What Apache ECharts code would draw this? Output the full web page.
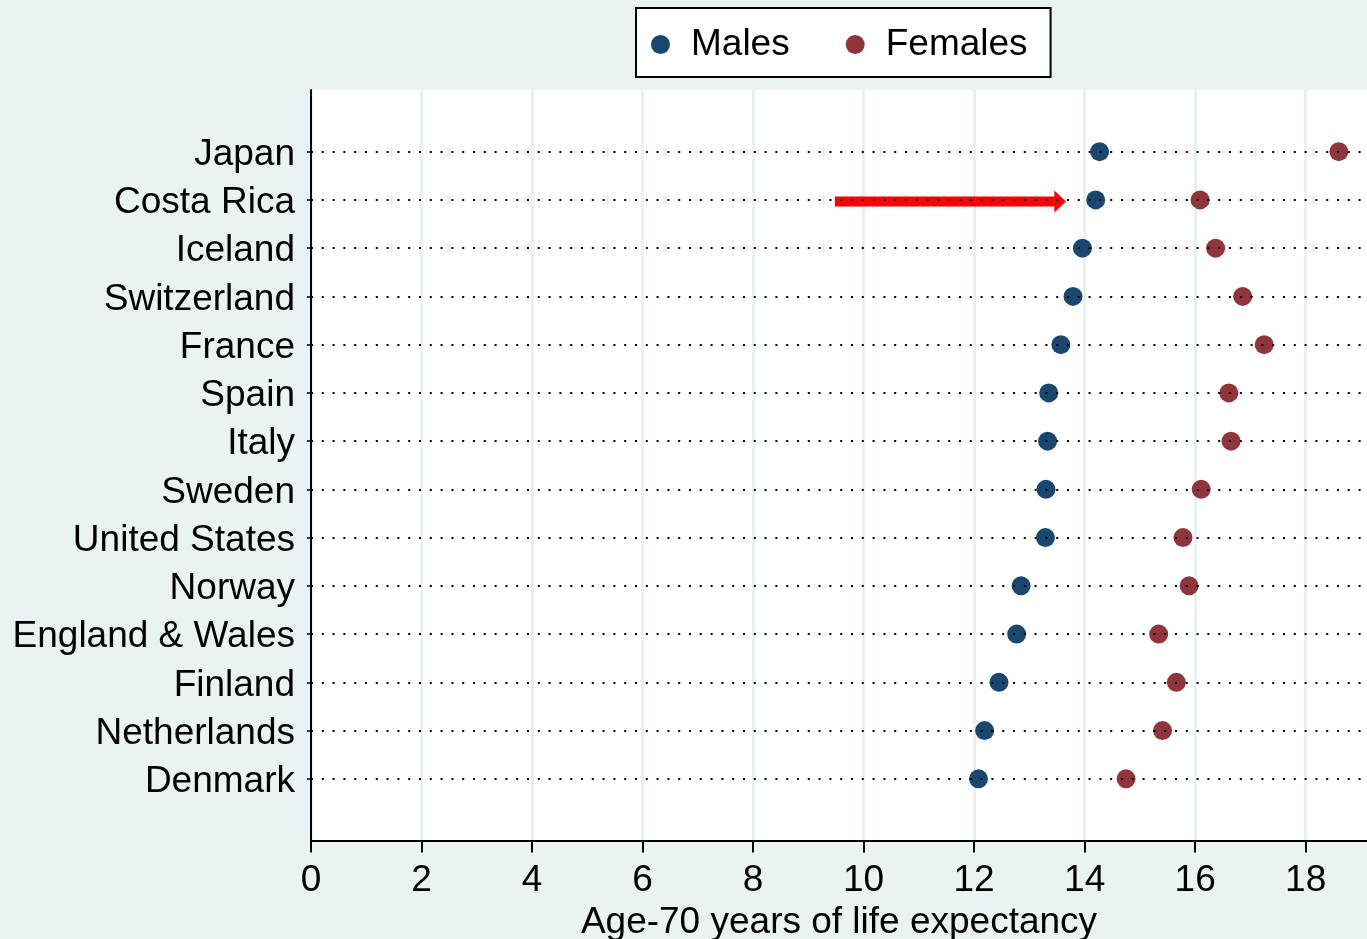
<!DOCTYPE html>
<html>
<head>
<meta charset="utf-8">
<title>Age-70 years of life expectancy</title>
<script src="https://cdn.jsdelivr.net/npm/echarts@6/dist/echarts.min.js"></script>
<style>
  html, body { margin: 0; padding: 0; background: #EAF2F3; }
  #chart { width: 1367px; height: 939px; }
</style>
</head>
<body>
<div id="chart"></div>
<script>
// Remaining life expectancy at age 70, by country (years)
const countries = [
  'Japan', 'Costa Rica', 'Iceland', 'Switzerland', 'France', 'Spain', 'Italy',
  'Sweden', 'United States', 'Norway', 'England & Wales', 'Finland',
  'Netherlands', 'Denmark'
];
const males = [14.27, 14.20, 13.96, 13.79, 13.57, 13.35, 13.33, 13.30, 13.29, 12.85, 12.77, 12.45, 12.19, 12.08];
const females = [18.60, 16.09, 16.37, 16.86, 17.25, 16.61, 16.65, 16.11, 15.78, 15.89, 15.34, 15.66, 15.41, 14.75];
const xTicks = [0, 2, 4, 6, 8, 10, 12, 14, 16, 18];

// Highlight arrow pointing at Costa Rica's male value
const arrowRow = 'Costa Rica';
const arrowFrom = 9.48;
const arrowTo = 13.66;

const FONT = "'Liberation Sans', Arial, Helvetica, sans-serif";
const FS = 37;
const rows = countries.map((_, i) => i + 1);
const rowPad = 1.278;

const chart = echarts.init(document.getElementById('chart'), null, { renderer: 'canvas' });

chart.setOption({
  backgroundColor: '#EAF2F3',
  animation: false,
  textStyle: { fontFamily: FONT },
  legend: {
    data: ['Males', 'Females'],
    left: 636,
    top: 8,
    orient: 'horizontal',
    backgroundColor: '#ffffff',
    borderColor: '#000000',
    borderWidth: 2,
    borderRadius: 0,
    padding: [18, 23, 14, 15],
    itemGap: 56,
    itemWidth: 19,
    itemHeight: 19,
    icon: 'circle',
    selectedMode: false,
    textStyle: { fontSize: FS, color: '#000', fontFamily: FONT, padding: [0, 0, 0, 16] }
  },
  grid: {
    left: 311,
    right: 0,
    top: 90,
    bottom: 98.5,
    outerBoundsMode: 'none',
    containLabel: false,
    show: true,
    backgroundColor: '#ffffff',
    borderWidth: 0
  },
  xAxis: {
    type: 'value',
    min: 0,
    max: 19.11,
    interval: 2,
    name: 'Age-70 years of life expectancy',
    nameLocation: 'middle',
    nameGap: 63,
    nameTextStyle: { fontSize: FS, color: '#000', fontFamily: FONT },
    axisLine: { show: true, onZero: false, lineStyle: { color: '#000', width: 2 } },
    axisTick: { show: true, length: 12, lineStyle: { color: '#000', width: 2 }, customValues: xTicks },
    axisLabel: {
      fontSize: FS, color: '#000', fontFamily: FONT, margin: 22,
      customValues: xTicks
    },
    splitLine: { show: true, lineStyle: { color: '#E5EEF0', width: 2.5 } }
  },
  yAxis: {
    type: 'value',
    inverse: true,
    min: 1 - rowPad,
    max: countries.length + rowPad,
    axisLine: { show: true, onZero: false, lineStyle: { color: '#000', width: 2 } },
    axisTick: { show: true, length: 4, lineStyle: { color: '#000', width: 1.5 }, customValues: rows },
    axisLabel: {
      fontSize: FS, color: '#000', fontFamily: FONT, margin: 16,
      verticalAlign: 'top',
      lineHeight: 6,
      customValues: rows,
      formatter: v => countries[Math.round(v) - 1] || ''
    },
    splitLine: { show: false }
  },
  series: [
    {
      // dotted guide line for every country row
      name: 'rows',
      type: 'line',
      data: [],
      z: 1,
      silent: true,
      markLine: {
        silent: true,
        symbol: ['none', 'none'],
        label: { show: false },
        lineStyle: { color: '#000', width: 2.2, type: [2, 8.8], opacity: 1 },
        emphasis: { disabled: true },
        data: rows.map(r => ({ yAxis: r }))
      }
    },
    {
      name: 'Males',
      type: 'scatter',
      z: 3,
      symbol: 'circle',
      symbolSize: 19,
      itemStyle: { color: '#1A476F', opacity: 1 },
      data: males.map((v, i) => [v, i + 1])
    },
    {
      name: 'Females',
      type: 'scatter',
      z: 3,
      symbol: 'circle',
      symbolSize: 19,
      itemStyle: { color: '#90353B', opacity: 1 },
      data: females.map((v, i) => [v, i + 1])
    },
    {
      name: 'arrow',
      type: 'custom',
      z: 4,
      silent: true,
      data: [[arrowFrom, countries.indexOf(arrowRow) + 1, arrowTo]],
      renderItem: function (params, api) {
        const row = api.value(1);
        const p0 = api.coord([api.value(0), row]);
        const p1 = api.coord([api.value(2), row]);
        const headLen = 11;
        const headHalf = 11;
        const shaftHalf = 5;
        const y = p0[1] + 1.5;
        return {
          type: 'group',
          children: [
            {
              type: 'rect',
              shape: { x: p0[0], y: y - shaftHalf, width: p1[0] - headLen - p0[0], height: shaftHalf * 2 },
              style: { fill: '#FF0000' }
            },
            {
              type: 'polygon',
              shape: { points: [[p1[0] - headLen - 0.5, y - headHalf], [p1[0], y], [p1[0] - headLen - 0.5, y + headHalf]] },
              style: { fill: '#FF0000' }
            }
          ]
        };
      }
    }
  ]
});
</script>
</body>
</html>
